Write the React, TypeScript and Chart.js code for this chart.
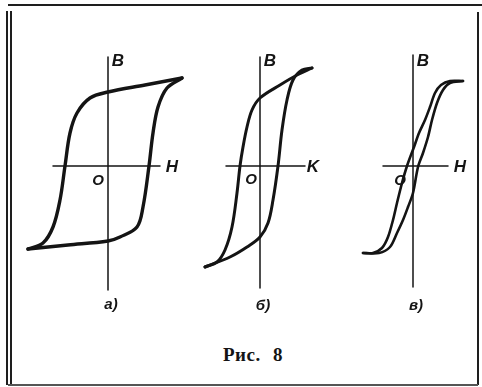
import { useEffect, useRef } from 'react';
import { Chart, registerables } from 'chart.js';

Chart.register(...registerables);

// Hysteresis loops B(H), [H, B] pairs in drawing units relative to each origin O.
// а) wide loop of a magnetically hard material
const loopADescending = [[74, 88], [37, 81], [0, 74], [-18, 68], [-31, 53], [-38, 33], [-43, 0], [-48, -34], [-55, -61], [-65, -77], [-80, -83]];
const loopAAscending = [[-80, -83], [-40, -79], [0, -75], [12, -71], [29, -61], [35, -41], [41, 0], [45, 33], [50, 59], [59, 78], [74, 88]];
// б) intermediate loop
const loopBDescending = [[52, 98], [37, 91], [20, 81], [0, 68], [-8, 56], [-13, 39], [-17, 19], [-20, 0], [-23, -27], [-28, -61], [-35, -84], [-43, -96], [-55, -101]];
const loopBAscending = [[-55, -101], [-30, -91], [-13, -81], [0, -71], [8, -57], [13, -34], [18, 0], [22, 36], [27, 66], [33, 86], [42, 96], [52, 98]];
// в) narrow loop of a magnetically soft material
const loopCDescending = [[50, 85], [37, 85], [28, 81], [22, 73], [17, 59], [12, 46], [6, 33], [1, 19], [-6, 0], [-11, -17], [-16, -37], [-20, -54], [-25, -71], [-31, -82], [-40, -87], [-50, -87]];
const loopCAscending = [[-50, -87], [-34, -87], [-23, -81], [-16, -67], [-10, -54], [-5, -41], [0, -27], [5, -1], [10, 13], [15, 29], [19, 46], [24, 63], [30, 76], [37, 83], [50, 85]];

// Coordinate axes H (horizontal) and B (vertical) of each diagram
const axisAH = [[-55, 0], [52, 0]];
const axisAB = [[0, 109], [0, -124]];
const axisBH = [[-34, 0], [45, 0]];
const axisBB = [[0, 109], [0, -122]];
const axisCH = [[-30, 0], [35, 0]];
const axisCB = [[0, 111], [0, -121]];

// Axis letters and captions
const panelCaptions = ['а)', 'б)', 'в)'];
const hLetters = ['H', 'K', 'H'];
const bLetter = 'B';
const originLetter = 'O';
const figureTitle = 'Рис. 8';

const INK = '#141414';
const letterFont = 'italic bold 17px "Liberation Sans", Arial, sans-serif';
const originFont = 'italic bold 15px "Liberation Sans", Arial, sans-serif';

const toPoints = (pairs: number[][]) => pairs.map(([x, y]) => ({ x, y }));

type Label = { text: string; h: number; b: number; font: string };
type PanelCfg = {
  left: number; top: number; width: number; height: number;
  ox: number; oy: number;
  descending: number[][]; ascending: number[][];
  hAxis: number[][]; bAxis: number[][];
  loopWidth: number; tension: number;
  labels: Label[];
};

const panels: PanelCfg[] = [
  {
    left: 15, top: 40, width: 180, height: 285, ox: 108, oy: 166,
    descending: loopADescending, ascending: loopAAscending,
    hAxis: axisAH, bAxis: axisAB, loopWidth: 3.4, tension: 0.35,
    labels: [
      { text: bLetter, h: 10, b: 105, font: letterFont },
      { text: hLetters[0], h: 64, b: -1, font: letterFont },
      { text: originLetter, h: -10, b: -15, font: originFont },
      { text: panelCaptions[0], h: 3, b: -139, font: originFont },
    ],
  },
  {
    left: 195, top: 40, width: 140, height: 285, ox: 260, oy: 166,
    descending: loopBDescending, ascending: loopBAscending,
    hAxis: axisBH, bAxis: axisBB, loopWidth: 3.0, tension: 0.35,
    labels: [
      { text: bLetter, h: 10, b: 105, font: letterFont },
      { text: hLetters[1], h: 53, b: -1, font: letterFont },
      { text: originLetter, h: -9, b: -14, font: originFont },
      { text: panelCaptions[1], h: 3, b: -140, font: originFont },
    ],
  },
  {
    left: 345, top: 40, width: 130, height: 285, ox: 413, oy: 166,
    descending: loopCDescending, ascending: loopCAscending,
    hAxis: axisCH, bAxis: axisCB, loopWidth: 2.6, tension: 0.3,
    labels: [
      { text: bLetter, h: 10, b: 105, font: letterFont },
      { text: hLetters[2], h: 47, b: -1, font: letterFont },
      { text: originLetter, h: -13, b: -15, font: originFont },
      { text: panelCaptions[2], h: 3, b: -140, font: originFont },
    ],
  },
];

function LoopPanel({ cfg }: { cfg: PanelCfg }) {
  const ref = useRef<HTMLCanvasElement | null>(null);

  useEffect(() => {
    if (!ref.current) return;
    const xMin = cfg.left - cfg.ox;
    const yMax = cfg.oy - cfg.top;
    const line = (pairs: number[][], width: number, tension: number) => ({
      data: toPoints(pairs),
      showLine: true,
      borderColor: INK,
      backgroundColor: INK,
      borderWidth: width,
      pointRadius: 0,
      tension,
      borderCapStyle: 'round' as const,
      borderJoinStyle: 'round' as const,
    });
    const chart = new Chart(ref.current, {
      type: 'scatter',
      data: {
        datasets: [
          line(cfg.hAxis, 1.5, 0),
          line(cfg.bAxis, 1.5, 0),
          line(cfg.descending, cfg.loopWidth, cfg.tension),
          line(cfg.ascending, cfg.loopWidth, cfg.tension),
        ],
      },
      options: {
        responsive: false,
        animation: false,
        events: [],
        layout: { padding: 0 },
        scales: {
          x: { type: 'linear', display: false, min: xMin, max: xMin + cfg.width },
          y: { type: 'linear', display: false, min: yMax - cfg.height, max: yMax },
        },
        plugins: { legend: { display: false }, tooltip: { enabled: false } },
      },
      plugins: [
        {
          id: 'axisLetters',
          afterDatasetsDraw(c: any) {
            const { ctx, scales } = c;
            ctx.save();
            ctx.fillStyle = INK;
            ctx.textAlign = 'center';
            ctx.textBaseline = 'middle';
            for (const l of cfg.labels) {
              ctx.font = l.font;
              ctx.fillText(l.text, scales.x.getPixelForValue(l.h), scales.y.getPixelForValue(l.b));
            }
            ctx.restore();
          },
        },
      ],
    });
    return () => chart.destroy();
  }, [cfg]);

  return (
    <canvas
      ref={ref}
      width={cfg.width}
      height={cfg.height}
      style={{ position: 'absolute', left: cfg.left, top: cfg.top, width: cfg.width, height: cfg.height }}
    />
  );
}

export default function App() {
  const rule = (style: React.CSSProperties) => (
    <div style={{ position: 'absolute', background: '#1e1e1e', ...style }} />
  );
  return (
    <div style={{ position: 'fixed', left: 0, top: 0, width: 482, height: 387, background: '#fff', overflow: 'hidden' }}>
      {rule({ left: 8, top: 4, width: 474, height: 2 })}
      {rule({ left: 6, top: 11, width: 1.5, height: 374 })}
      {rule({ left: 10, top: 11, width: 1.5, height: 374 })}
      {rule({ left: 477, top: 12, width: 2, height: 373 })}
      {rule({ left: 8, top: 384, width: 470, height: 1.5, background: '#555' })}
      {panels.map((p, i) => (
        <LoopPanel key={i} cfg={p} />
      ))}
      <div
        style={{
          position: 'absolute', left: 12, width: 482, top: 344, textAlign: 'center',
          font: 'bold 19px "Liberation Serif", "Times New Roman", serif', color: INK,
          wordSpacing: 7, letterSpacing: 0.5,
        }}
      >
        {figureTitle}
      </div>
    </div>
  );
}
